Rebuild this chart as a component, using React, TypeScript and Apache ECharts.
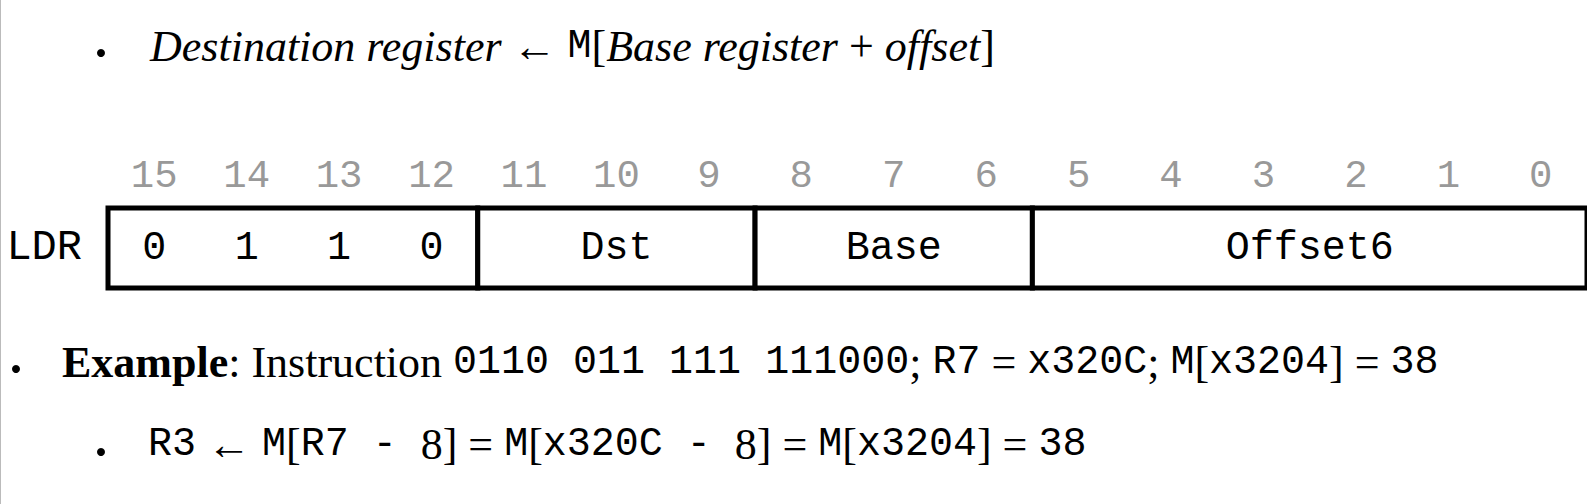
import { useRef, useEffect } from 'react';
import * as echarts from 'echarts';

const bitLabels = ['15', '14', '13', '12', '11', '10', '9', '8', '7', '6', '5', '4', '3', '2', '1', '0'];
const rowLabels = ['LDR'];
// fields: first bit index (left), last bit index (right), text; per-bit fields spread one char per bit
const fieldStart = [0, 4, 7, 10];
const fieldEnd = [3, 6, 9, 15];
const fieldText = ['0110', 'Dst', 'Base', 'Offset6'];
const fieldPerBit = [true, false, false, false];

const MONO = '"Liberation Mono", "DejaVu Sans Mono", monospace';
const SERIF = '"Liberation Serif", "DejaVu Serif", serif';
const S = '\u00a0';

const App: React.FC = () => {
    const chartRef = useRef<HTMLDivElement>(null);

    useEffect(() => {
        if (!chartRef.current) return;
        const chart = echarts.init(chartRef.current, null, { renderer: 'svg' });

        const rich = {
            it: { fontFamily: SERIF, fontStyle: 'italic' as const, fontSize: 44, fill: '#000' },
            rm: { fontFamily: SERIF, fontSize: 44, fill: '#000' },
            bf: { fontFamily: SERIF, fontWeight: 'bold' as const, fontSize: 44, fill: '#000' },
            tt: { fontFamily: MONO, fontSize: 40, fill: '#000' },
        };

        const option: echarts.EChartsOption = {
            animation: false,
            grid: { left: 108, top: 208, width: 1480, height: 80 },
            xAxis: {
                type: 'category',
                data: bitLabels,
                position: 'top',
                axisLine: { show: false },
                axisTick: { show: false },
                splitLine: { show: false },
                axisLabel: { color: '#999', fontFamily: MONO, fontSize: 39, margin: 12 },
            },
            yAxis: {
                type: 'category',
                data: rowLabels,
                axisLine: { show: false },
                axisTick: { show: false },
                axisLabel: { color: '#000', fontFamily: MONO, fontSize: 42, margin: 26 },
            },
            series: [
                {
                    type: 'custom',
                    data: fieldText.map((t, i) => [fieldStart[i], fieldEnd[i], 0, t]),
                    renderItem: (params: any, api: any) => {
                        const s = api.value(0);
                        const e = api.value(1);
                        const w = api.size([1, 0])[0];
                        const h = api.size([0, 1])[1];
                        const c0 = api.coord([s, 0]);
                        const c1 = api.coord([e, 0]);
                        const x0 = c0[0] - w / 2;
                        const x1 = c1[0] + w / 2;
                        const y0 = c0[1] - h / 2;
                        const txt = fieldText[params.dataIndex];
                        const textStyle = { fontFamily: MONO, fontSize: 40, fill: '#000', align: 'center', verticalAlign: 'middle' };
                        const texts = fieldPerBit[params.dataIndex]
                            ? txt.split('').map((ch, k) => ({
                                type: 'text',
                                x: api.coord([s + k, 0])[0],
                                y: c0[1],
                                style: { ...textStyle, text: ch },
                            }))
                            : [{ type: 'text', x: (x0 + x1) / 2, y: c0[1], style: { ...textStyle, text: txt } }];
                        return {
                            type: 'group',
                            children: [
                                {
                                    type: 'rect',
                                    shape: { x: x0, y: y0, width: x1 - x0, height: h },
                                    style: { fill: '#fff', stroke: '#000', lineWidth: 5 },
                                },
                                ...texts,
                            ],
                        };
                    },
                },
            ],
            graphic: [
                { type: 'rect', shape: { x: 0, y: 0, width: 1, height: 504 }, style: { fill: '#bbb' } },
                { type: 'circle', shape: { cx: 101, cy: 53, r: 4 }, style: { fill: '#000' } },
                {
                    type: 'text', left: 150, top: 24,
                    style: { text: `{it|Destination register${S}}{rm|←${S}}{tt|M}{rm|[}{it|Base register${S}}{rm|+${S}}{it|offset}{rm|]}`, rich },
                },
                { type: 'circle', shape: { cx: 16, cy: 369, r: 4 }, style: { fill: '#000' } },
                {
                    type: 'text', left: 62, top: 340,
                    style: { text: `{bf|Example}{rm|: Instruction${S}}{tt|0110${S}011${S}111${S}111000}{rm|;${S}}{tt|R7}{rm|${S}=${S}}{tt|x320C}{rm|;${S}}{tt|M}{rm|[}{tt|x3204}{rm|]${S}=${S}}{tt|38}`, rich },
                },
                { type: 'circle', shape: { cx: 101, cy: 452, r: 4 }, style: { fill: '#000' } },
                {
                    type: 'text', left: 148, top: 422,
                    style: { text: `{tt|R3}{rm|${S}←${S}}{tt|M}{rm|[}{tt|R7${S}-${S}}{rm|8]${S}=${S}}{tt|M}{rm|[}{tt|x320C${S}-${S}}{rm|8]${S}=${S}}{tt|M}{rm|[}{tt|x3204}{rm|]${S}=${S}}{tt|38}`, rich },
                },
            ],
        };

        chart.setOption(option);
        return () => {
            chart.dispose();
        };
    }, []);

    return (
        <div
            ref={chartRef}
            style={{ position: 'fixed', left: 0, top: 0, width: '1587px', height: '504px', background: '#fff' }}
        />
    );
};

export default App;
